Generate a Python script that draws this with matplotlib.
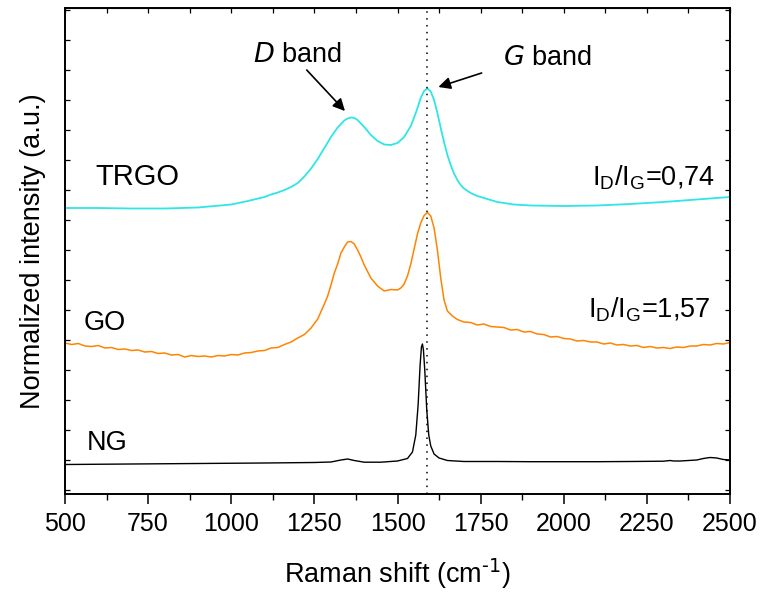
import matplotlib
matplotlib.use("Agg")
import matplotlib.pyplot as plt
from matplotlib.ticker import MultipleLocator

plt.rcParams['font.family'] = ['Liberation Sans', 'DejaVu Sans']
plt.rcParams['mathtext.default'] = 'regular'

# ---------------- data (arbitrary intensity units) -------------
trgo_x = [500, 600, 700, 800, 900, 1000, 1050, 1100, 1120, 1140, 1160, 1180, 1200, 1220,
          1240, 1260, 1280, 1300, 1320, 1340, 1350, 1360, 1370, 1380, 1400, 1420, 1440,
          1460, 1480, 1500, 1520, 1540, 1555, 1570, 1580, 1590, 1600, 1610, 1620, 1630,
          1640, 1650, 1660, 1670, 1680, 1690, 1700, 1720, 1740, 1760, 1780, 1800, 1850,
          1900, 2000, 2100, 2200, 2300, 2400, 2500]
trgo_y = [282, 282, 281.5, 281.5, 282.5, 285.5, 289, 293, 295.5, 297.5, 300, 303, 307,
          313.5, 321.5, 331, 342, 353, 362.5, 369.5, 371.5, 372.5, 372, 370, 363, 355,
          349, 345.5, 345, 347, 353, 364, 377, 392, 399, 401.5, 398.5, 390, 377, 362,
          348, 335, 325, 316.5, 310, 305, 301.5, 297, 294, 292, 290, 288, 285.5,
          284.5, 284, 284.5, 286, 288, 290.5, 293]

go_x = [500, 520, 540, 560, 580, 600, 620, 640, 660, 680, 700, 720, 740, 760, 780, 800,
        820, 840, 860, 880, 900, 920, 940, 960, 980, 1000, 1020, 1040, 1060, 1080, 1100,
        1120, 1140, 1160, 1180, 1200, 1220, 1240, 1260, 1280, 1290, 1300, 1310, 1320,
        1330, 1340, 1350, 1360, 1370, 1380, 1390, 1400, 1420, 1440, 1460, 1480, 1500,
        1510, 1520, 1530, 1540, 1550, 1560, 1570, 1580, 1590, 1600, 1610, 1620, 1630,
        1640, 1650, 1665, 1680, 1700, 1720, 1740, 1760, 1780, 1800, 1820, 1840, 1860,
        1880, 1900, 1920, 1940, 1960, 1980, 2000, 2020, 2040, 2060, 2080, 2100, 2120,
        2140, 2160, 2180, 2200, 2220, 2240, 2260, 2280, 2300, 2320, 2340, 2360, 2380,
        2400, 2420, 2440, 2460, 2480, 2500]
go_y = [147, 145.5, 146.5, 144, 143.5, 144.5, 142, 142.5, 140.5, 141, 139.5, 140, 138,
        138.5, 136.5, 137, 135, 135.5, 133, 134.5, 133.5, 134, 133, 134.5, 134, 135.5,
        135, 137, 137.5, 139, 139.5, 142, 142.5, 145.5, 148, 152, 155.5, 162, 171, 186,
        194, 205, 217, 226, 237, 243, 248, 248.5, 246, 240, 233, 225, 212, 204, 199,
        200.5, 200, 202, 206, 214, 226, 241, 256, 267, 274.5, 277.5, 274, 262, 240,
        212, 190, 179, 174, 170.5, 168, 167.5, 165, 166, 163.5, 163, 162.5, 160, 160.5,
        158, 158.5, 156, 155.5, 153, 153.5, 151.5, 151, 149, 149.5, 148, 148, 146,
        147, 145, 145.5, 144, 144.5, 142.5, 143.5, 142, 142.5, 141.5, 143, 142.5, 144,
        144, 145.5, 145, 146.5, 146, 147.5]

ng_x = [500, 700, 900, 1100, 1250, 1300, 1330, 1350, 1370, 1400, 1450, 1500, 1530, 1545,
        1555, 1562, 1568, 1572, 1575, 1578, 1582, 1588, 1594, 1600, 1610, 1625, 1650,
        1700, 1800, 1900, 2000, 2100, 2200, 2300, 2320, 2330, 2350, 2400, 2420, 2440,
        2460, 2480, 2500]
ng_y = [25.5, 26, 26.5, 27, 27.5, 28, 30, 31, 29.5, 27.8, 27.8, 29, 31.5, 38,
        55, 85, 125, 143, 146, 140, 120, 80, 55, 44, 36, 32, 29.5,
        28.5, 28.5, 28.3, 28.3, 28.3, 28.5, 28.8, 29.5, 29, 29, 30, 31.5, 32.5,
        32, 30.5, 30]

g_band_position = 1590
sample_labels = ["TRGO", "GO", "NG"]
ratio_labels = ["I$_\\mathregular{D}$/I$_\\mathregular{G}$=0,74",
                "I$_\\mathregular{D}$/I$_\\mathregular{G}$=1,57"]
x_ticks = [500, 750, 1000, 1250, 1500, 1750, 2000, 2250, 2500]

# ---------------- figure -------------
fig = plt.figure(figsize=(7.63, 5.96), dpi=100)
ax = fig.add_axes([65 / 763, 1 - 494 / 596, 665 / 763, 486 / 596])

ax.plot(ng_x, ng_y, color='black', lw=1.0)
ax.plot(go_x, go_y, color='#FF8400', lw=1.1)
ax.plot(trgo_x, trgo_y, color='#2EE6E6', lw=1.3)
ax.axvline(g_band_position, color='black', lw=1.1, ls=(0, (1, 3.5)))

ax.set_xlim(500, 2500)
ax.set_ylim(-4, 482)

ax.set_xticks(x_ticks)
ax.xaxis.set_minor_locator(MultipleLocator(125))
ax.yaxis.set_major_locator(MultipleLocator(30))
ax.set_yticklabels([])
ax.tick_params(axis='x', which='major', direction='out', length=7, width=1.1,
               labelsize=18, pad=6, top=False)
ax.tick_params(axis='x', which='minor', direction='out', length=4, width=1.0, top=False)
ax.tick_params(axis='y', which='major', direction='in', length=3.5, width=0.9,
               left=True, right=True, labelleft=False)
for s in ax.spines.values():
    s.set_linewidth(1.4)

# inward ticks on the top spine
top = ax.secondary_xaxis('top')
top.set_xticks(x_ticks)
top.xaxis.set_minor_locator(MultipleLocator(125))
top.tick_params(axis='x', which='both', direction='in', length=3.5, width=0.9,
                labeltop=False)
top.set_xticklabels([])

ax.set_xlabel("Raman shift (cm$^{\\text{-1}}$)", fontsize=19.5, labelpad=15)
ax.set_ylabel("Normalized intensity (a.u.)", fontsize=19.5, labelpad=14)

# sample names
ax.text(590, 305, sample_labels[0], fontsize=21, ha='left', va='baseline')
ax.text(557, 160, sample_labels[1], fontsize=19.5, ha='left', va='baseline')
ax.text(566, 40, sample_labels[2], fontsize=19.5, ha='left', va='baseline')

# ratios
ax.text(2455, 305, ratio_labels[0], fontsize=19.5, ha='right', va='baseline')
ax.text(2440, 172, ratio_labels[1], fontsize=19.5, ha='right', va='baseline')

# band annotations
ax.text(1065, 428, "$\\mathit{D}$ band", fontsize=19.5, ha='left', va='baseline')
ax.text(1817, 425, "$\\mathit{G}$ band", fontsize=19.5, ha='left', va='baseline')
ax.annotate("", xy=(1342, 379), xytext=(1227, 420),
            arrowprops=dict(arrowstyle='-|>', color='black', lw=1.2,
                            mutation_scale=18, shrinkA=0, shrinkB=0))
ax.annotate("", xy=(1623, 403), xytext=(1753, 417),
            arrowprops=dict(arrowstyle='-|>', color='black', lw=1.2,
                            mutation_scale=18, shrinkA=0, shrinkB=0))

fig.savefig("out.png", dpi=100)
